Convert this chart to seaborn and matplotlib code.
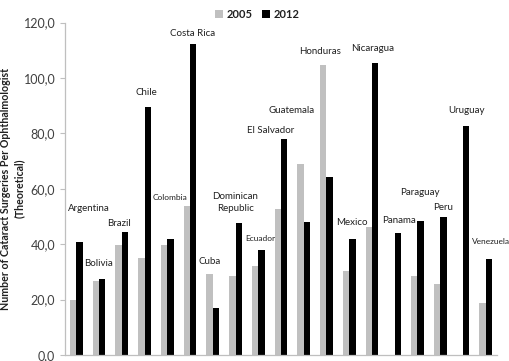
import numpy as np
import pandas as pd
import matplotlib
matplotlib.use("Agg")
import matplotlib.pyplot as plt
import seaborn as sns

countries = ["Argentina", "Bolivia", "Brazil", "Chile", "Colombia", "Costa Rica", "Cuba",
             "Dominican\nRepublic", "Ecuador", "El Salvador", "Guatemala", "Honduras", "Mexico",
             "Nicaragua", "Panama", "Paraguay", "Peru", "Uruguay", "Venezuela"]
v2005 = [19.7, 26.8, 39.6, 35.1, 39.7, 53.9, 29.2, 28.5, 32.1, 52.7, 68.8, 104.7, 30.2,
         46.1, np.nan, 28.6, 25.5, np.nan, 18.7]
v2012 = [40.9, 27.4, 44.4, 89.4, 41.8, 112.3, 17.1, 47.8, 37.9, 77.9, 47.9, 64.2, 41.8,
         105.5, 44.2, 48.3, 49.7, 82.7, 34.7]
years = ["2005", "2012"]
yticks = [0, 20, 40, 60, 80, 100, 120]

# label placement (x in category units, y in data units)
label_x = [0.55, 0.995, 1.875, 3.06, 4.12, 5.13, 5.88, 6.98, 8.08, 8.56, 9.48, 10.71,
           12.12, 13.04, 14.19, 15.11, 16.12, 17.18, 18.23]
label_y = [52.8, 33.2, 47.3, 94.6, 57.0, 116.2, 33.6, 54.9, 42.2, 81.2, 88.1, 109.4,
           47.7, 110.5, 48.7, 58.8, 53.4, 88.1, 40.8]
small = {"Colombia", "Ecuador", "Venezuela"}

df = pd.DataFrame({
    "country": countries * 2,
    "year": [years[0]] * len(countries) + [years[1]] * len(countries),
    "value": v2005 + v2012,
})

sns.set_theme(style="white")
plt.rcParams["font.family"] = ["Lato", "DejaVu Sans"]

fig = plt.figure(figsize=(5.1, 3.61), dpi=100)
ax = fig.add_axes([65 / 510, 6 / 361, 432 / 510, 332.5 / 361])

sns.barplot(data=df, x="country", y="value", hue="year", order=countries,
            hue_order=years, palette={"2005": "#c0c0c0", "2012": "#000000"},
            width=0.56, errorbar=None, saturation=1, ax=ax, linewidth=0)

ax.set_xlim(-0.5, len(countries) - 0.5)
ax.set_ylim(0, 120)
ax.set_yticks(yticks)
ax.set_yticklabels([f"{t:.1f}".replace(".", ",") for t in yticks], fontsize=9, color="#404040")
ax.set_xticks([])
ax.set_xlabel("")
ax.set_ylabel("Number of Cataract Surgeries Per Ophthalmologist\n(Theoretical)",
              fontsize=7.7, fontweight="bold", color="#202020", linespacing=1.4)
ax.yaxis.set_label_coords(-0.092, 0.5)
ax.tick_params(axis="y", which="both", left=True, length=3.5, width=0.8, color="#bfbfbf", pad=3.5)

for s in ["top", "right"]:
    ax.spines[s].set_visible(False)
for s in ["left", "bottom"]:
    ax.spines[s].set_color("#bfbfbf")
    ax.spines[s].set_linewidth(0.9)

for name, lx, ly in zip(countries, label_x, label_y):
    fs = 6.0 if name in small else 7.0
    ax.text(lx, ly, name, ha="center", va="center", fontsize=fs, color="#202020",
            linespacing=1.4)

leg = ax.legend(loc="upper center", bbox_to_anchor=(0.445, 1.055), ncol=2, frameon=False,
                prop={"weight": "bold", "size": 8}, handlelength=0.7, handleheight=0.7,
                handletextpad=0.3, columnspacing=0.9, borderaxespad=0)
for t in leg.get_texts():
    t.set_color("#202020")

fig.savefig("out.png", dpi=100)
